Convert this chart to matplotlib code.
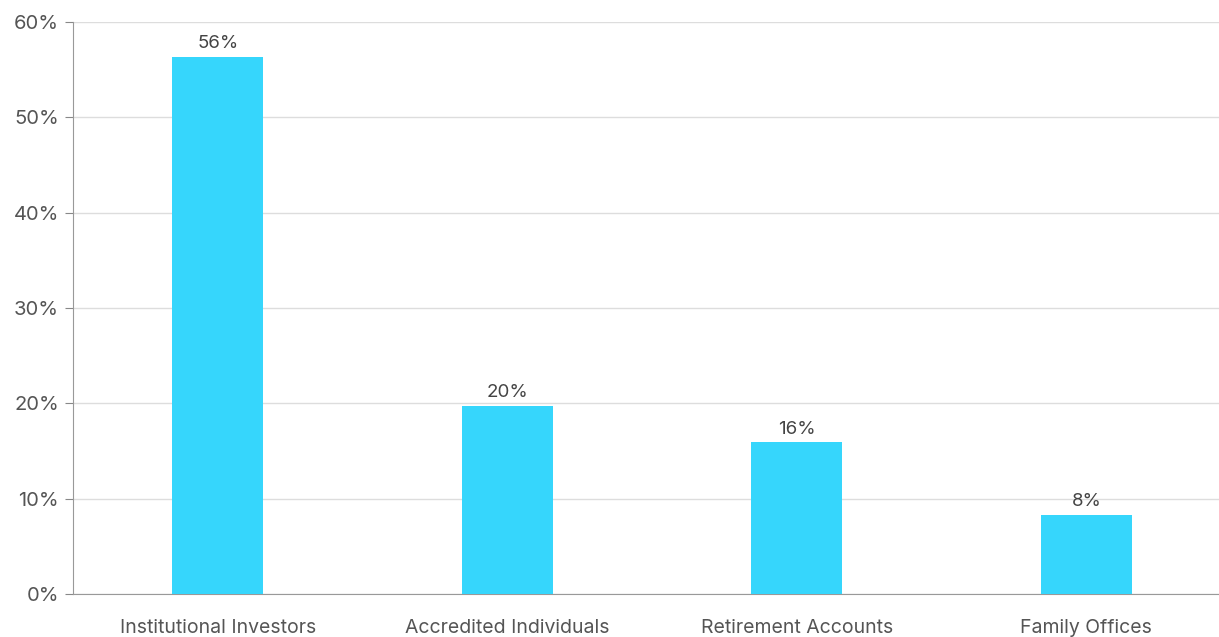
import matplotlib as mpl
mpl.use('Agg')
import matplotlib.pyplot as plt
from matplotlib.ticker import FuncFormatter

categories = ['Institutional Investors', 'Accredited Individuals', 'Retirement Accounts', 'Family Offices']
values = [56.3, 19.7, 15.9, 8.3]
labels = ['56%', '20%', '16%', '8%']

plt.rcParams['font.family'] = ['Inter', 'DejaVu Sans']

fig = plt.figure(figsize=(12.19, 6.37), dpi=100)
ax = fig.add_axes([0.0599, 0.0675, 0.9401, 0.898])

x = range(len(categories))
bars = ax.bar(x, values, width=0.315, color='#36D6FC', zorder=3)
for b, lab in zip(bars, labels):
    ax.text(b.get_x() + b.get_width() / 2, b.get_height() + 0.5, lab,
            ha='center', va='bottom', fontsize=13.5, color='#444444')

ax.set_xlim(-0.5, 3.458)
ax.set_ylim(0, 60)
ax.set_yticks(range(0, 61, 10))
ax.yaxis.set_major_formatter(FuncFormatter(lambda v, p: '%d%%' % v))
ax.set_xticks(list(x))
ax.set_xticklabels(categories)
ax.tick_params(axis='y', labelsize=14.5, labelcolor='#555555', color='#888888', length=6, pad=4)
ax.tick_params(axis='x', labelsize=14, labelcolor='#555555', length=0, pad=18)
ax.grid(axis='y', color='#dddddd', linewidth=1, zorder=0)
for s in ['top', 'right']:
    ax.spines[s].set_visible(False)
ax.spines['left'].set_color('#999999')
ax.spines['bottom'].set_color('#999999')

plt.savefig('out.png')
